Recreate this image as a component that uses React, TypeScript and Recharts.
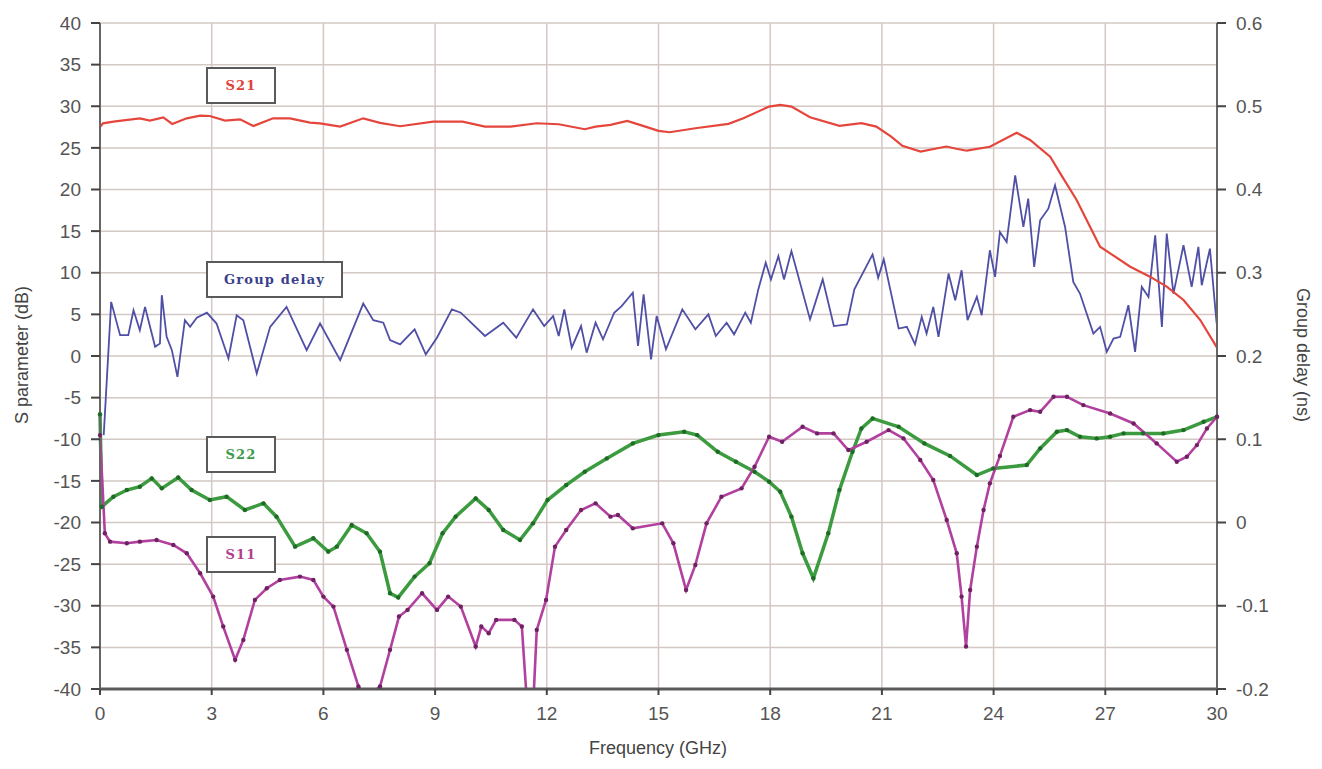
import React from "react";
import { LineChart, Line, XAxis, YAxis, CartesianGrid } from "recharts";

// values: [frequency GHz, value]
const freqTicks = [0, 3, 6, 9, 12, 15, 18, 21, 24, 27, 30];
const dbTicks = [-40, -35, -30, -25, -20, -15, -10, -5, 0, 5, 10, 15, 20, 25, 30, 35, 40];
const nsTicks = [-0.2, -0.1, 0, 0.1, 0.2, 0.3, 0.4, 0.5, 0.6];

const s21: [number, number][] = [
  [0, 27.5], [0.08, 27.95], [0.36, 28.15], [1.07, 28.55], [1.34, 28.27], [1.7, 28.67],
  [1.94, 27.87], [2.33, 28.55], [2.69, 28.87], [2.95, 28.83], [3.36, 28.27], [3.76, 28.43],
  [4.12, 27.63], [4.65, 28.55], [5.1, 28.55], [5.64, 28.03], [5.91, 27.95], [6.45, 27.55],
  [7.07, 28.55], [7.52, 28.0], [8.06, 27.6], [8.95, 28.16], [9.74, 28.16], [10.34, 27.56],
  [11.03, 27.56], [11.73, 27.96], [12.32, 27.84], [13.02, 27.24], [13.31, 27.56], [13.71, 27.76],
  [14.16, 28.24], [14.5, 27.76], [15.0, 27.04], [15.3, 26.88], [15.99, 27.36], [16.88, 27.88],
  [17.28, 28.56], [17.97, 29.96], [18.27, 30.16], [18.57, 29.96], [19.07, 28.68], [19.86, 27.64],
  [20.45, 27.96], [20.85, 27.56], [21.25, 26.36], [21.55, 25.24], [22.04, 24.56], [22.73, 25.16],
  [23.0, 24.9], [23.28, 24.66], [23.9, 25.14], [24.62, 26.82], [24.98, 25.95], [25.52, 23.94],
  [25.79, 21.94], [26.23, 18.74], [26.59, 15.53], [26.86, 13.13], [27.13, 12.33], [27.67, 10.73],
  [28.2, 9.53], [28.65, 8.33], [29.1, 6.73], [29.55, 4.32], [30.0, 1.0],
];

const groupDelay: [number, number][] = [
  [0.1, 0.105], [0.3, 0.265], [0.54, 0.225], [0.76, 0.225], [0.9, 0.255], [1.07, 0.231],
  [1.21, 0.259], [1.3, 0.243], [1.48, 0.211], [1.61, 0.215], [1.66, 0.273], [1.79, 0.223],
  [1.93, 0.207], [2.08, 0.175], [2.28, 0.243], [2.42, 0.235], [2.6, 0.246], [2.87, 0.252],
  [3.13, 0.239], [3.45, 0.197], [3.67, 0.249], [3.85, 0.243], [4.21, 0.179], [4.57, 0.235],
  [5.01, 0.259], [5.55, 0.207], [5.91, 0.239], [6.45, 0.195], [7.07, 0.263], [7.34, 0.243],
  [7.61, 0.24], [7.79, 0.219], [8.06, 0.214], [8.45, 0.232], [8.75, 0.202], [9.05, 0.222],
  [9.45, 0.256], [9.69, 0.252], [10.34, 0.224], [10.83, 0.24], [11.18, 0.222], [11.63, 0.256],
  [11.93, 0.236], [12.17, 0.248], [12.32, 0.224], [12.47, 0.256], [12.67, 0.21], [12.92, 0.236],
  [13.07, 0.204], [13.31, 0.24], [13.51, 0.22], [13.81, 0.252], [14.01, 0.26], [14.31, 0.276],
  [14.45, 0.212], [14.6, 0.274], [14.8, 0.196], [14.95, 0.248], [15.2, 0.208], [15.64, 0.256],
  [15.99, 0.232], [16.34, 0.25], [16.54, 0.224], [16.83, 0.24], [17.03, 0.226], [17.33, 0.252],
  [17.48, 0.24], [17.68, 0.28], [17.88, 0.312], [18.02, 0.292], [18.22, 0.32], [18.37, 0.292],
  [18.57, 0.326], [19.07, 0.244], [19.41, 0.292], [19.71, 0.236], [20.06, 0.238], [20.26, 0.28],
  [20.75, 0.322], [20.9, 0.294], [21.05, 0.316], [21.45, 0.233], [21.67, 0.235], [21.89, 0.214],
  [22.07, 0.247], [22.2, 0.227], [22.38, 0.259], [22.52, 0.223], [22.79, 0.299], [22.97, 0.267],
  [23.14, 0.303], [23.3, 0.243], [23.55, 0.271], [23.68, 0.249], [23.9, 0.327], [24.04, 0.295],
  [24.17, 0.349], [24.35, 0.337], [24.58, 0.417], [24.8, 0.355], [24.93, 0.389], [25.09, 0.307],
  [25.25, 0.363], [25.47, 0.377], [25.65, 0.405], [25.92, 0.355], [26.14, 0.289], [26.32, 0.275],
  [26.68, 0.227], [26.86, 0.235], [27.04, 0.205], [27.22, 0.221], [27.4, 0.223], [27.62, 0.261],
  [27.8, 0.205], [27.98, 0.283], [28.16, 0.271], [28.34, 0.345], [28.52, 0.235], [28.65, 0.347],
  [28.83, 0.275], [29.1, 0.333], [29.32, 0.283], [29.5, 0.331], [29.59, 0.285], [29.81, 0.329],
  [29.99, 0.239],
];

const s22: [number, number][] = [
  [0, -7], [0.05, -18.1], [0.36, -16.9], [0.72, -16.1], [1.07, -15.7], [1.39, -14.7],
  [1.66, -15.9], [2.1, -14.6], [2.46, -16.1], [2.95, -17.3], [3.4, -16.9], [3.89, -18.5],
  [4.39, -17.7], [4.74, -19.3], [5.24, -22.9], [5.73, -21.9], [6.13, -23.5], [6.36, -22.9],
  [6.76, -20.3], [7.16, -21.3], [7.52, -23.5], [7.79, -28.5], [8.01, -29.0], [8.45, -26.5],
  [8.85, -24.9], [9.2, -21.3], [9.55, -19.3], [10.09, -17.1], [10.44, -18.5], [10.83, -20.9],
  [11.28, -22.1], [11.63, -20.1], [12.02, -17.3], [12.52, -15.5], [13.02, -13.9], [13.61, -12.3],
  [14.31, -10.5], [15.0, -9.5], [15.69, -9.1], [16.04, -9.5], [16.59, -11.5], [17.08, -12.7],
  [17.58, -13.9], [17.97, -15.1], [18.27, -16.3], [18.57, -19.3], [18.87, -23.7], [19.16, -26.7],
  [19.56, -21.3], [19.86, -16.1], [20.21, -11.5], [20.45, -8.7], [20.75, -7.5], [21.45, -8.5],
  [22.14, -10.5], [22.83, -12.0], [23.55, -14.3], [23.99, -13.5], [24.89, -13.1], [25.25, -11.1],
  [25.7, -9.1], [25.97, -8.9], [26.32, -9.7], [26.77, -9.9], [27.13, -9.7], [27.49, -9.3],
  [28.02, -9.3], [28.56, -9.3], [29.1, -8.9], [29.64, -7.9], [30.0, -7.3],
];

const s11: [number, number][] = [
  [0, -9.5], [0.13, -21.3], [0.27, -22.3], [0.72, -22.5], [1.07, -22.3], [1.52, -22.1],
  [1.97, -22.7], [2.33, -23.7], [2.69, -26.1], [3.04, -28.9], [3.31, -32.5], [3.63, -36.5],
  [3.85, -34.1], [4.16, -29.3], [4.48, -27.9], [4.83, -26.9], [5.37, -26.5], [5.73, -26.9],
  [6.0, -28.9], [6.27, -30.1], [6.63, -35.3], [6.94, -39.7], [7.16, -41], [7.52, -39.7],
  [7.79, -35.3], [8.03, -31.3], [8.26, -30.5], [8.65, -28.5], [9.05, -30.5], [9.35, -28.9],
  [9.69, -30.1], [10.09, -34.9], [10.24, -32.5], [10.44, -33.3], [10.64, -31.7], [11.13, -31.7],
  [11.33, -32.5], [11.45, -40.5], [11.55, -42], [11.65, -40.5], [11.73, -32.9], [11.98, -29.3],
  [12.22, -22.9], [12.52, -20.9], [12.92, -18.5], [13.31, -17.7], [13.71, -19.3], [13.91, -19.1],
  [14.31, -20.7], [15.1, -20.1], [15.4, -22.5], [15.74, -28.1], [15.99, -25.1], [16.29, -20.1],
  [16.69, -16.9], [17.23, -15.9], [17.58, -13.3], [17.97, -9.7], [18.32, -10.3], [18.87, -8.5],
  [19.26, -9.3], [19.7, -9.3], [20.1, -11.3], [20.59, -10.3], [21.18, -8.9], [21.58, -9.9],
  [22.03, -12.5], [22.38, -14.9], [22.74, -19.7], [23.01, -23.7], [23.14, -28.9], [23.26, -34.9],
  [23.37, -28.1], [23.55, -22.9], [23.73, -18.5], [23.9, -15.3], [24.17, -12.0], [24.53, -7.3],
  [24.98, -6.5], [25.25, -6.7], [25.61, -4.9], [25.97, -4.9], [26.41, -5.9], [27.13, -6.9],
  [27.76, -8.1], [28.38, -10.5], [28.92, -12.7], [29.19, -12.1], [29.46, -10.7], [29.73, -8.7],
  [30.0, -7.3],
];

const toRows = (pts: [number, number][]) => pts.map(([f, v]) => ({ f, v }));

const tickFont = { fontSize: 19, fontFamily: "Liberation Sans, Arial, sans-serif", fill: "#555" };

function Tag({ x, y, w, color, text }: { x: number; y: number; w: number; color: string; text: string }) {
  return (
    <div
      style={{
        position: "absolute",
        left: x,
        top: y,
        width: w,
        height: 37,
        boxSizing: "border-box",
        border: "2px solid #5a5a5a",
        background: "#fff",
        color,
        fontFamily: "DejaVu Serif, serif",
        fontWeight: "bold",
        fontSize: 13,
        letterSpacing: 1.2,
        display: "flex",
        alignItems: "center",
        justifyContent: "center",
      }}
    >
      {text}
    </div>
  );
}

const axisTitle: React.CSSProperties = {
  position: "absolute",
  whiteSpace: "nowrap",
  fontFamily: "Liberation Sans, Arial, sans-serif",
  fontSize: 18,
  color: "#444",
  transform: "translate(-50%, -50%)",
};

export default function App() {
  return (
    <div style={{ position: "absolute", left: 0, top: 0, width: 1322, height: 769, background: "#fff" }}>
      <LineChart width={1322} height={769} margin={{ top: 23, right: 45, left: 40, bottom: 40 }}>
        <CartesianGrid yAxisId="left" stroke="#d3c8c4" strokeWidth={1.5} />
        <XAxis
          type="number"
          dataKey="f"
          domain={[0, 30]}
          ticks={freqTicks}
          height={40}
          tick={tickFont}
          tickSize={6}
          tickMargin={12}
          axisLine={{ stroke: "#5a5a5a", strokeWidth: 3 }}
          tickLine={{ stroke: "#444", strokeWidth: 2 }}
        />
        <YAxis
          yAxisId="left"
          type="number"
          domain={[-40, 40]}
          ticks={dbTicks}
          allowDataOverflow
          width={60}
          tick={tickFont}
          tickSize={9}
          tickMargin={10}
          axisLine={{ stroke: "#666", strokeWidth: 2 }}
          tickLine={{ stroke: "#444", strokeWidth: 2 }}
        />
        <YAxis
          yAxisId="right"
          orientation="right"
          type="number"
          domain={[-0.2, 0.6]}
          ticks={nsTicks}
          allowDataOverflow
          width={60}
          tick={tickFont}
          tickSize={9}
          tickMargin={10}
          tickFormatter={(v) => String(Math.round(v * 10) / 10)}
          axisLine={{ stroke: "#666", strokeWidth: 2 }}
          tickLine={{ stroke: "#444", strokeWidth: 2 }}
        />
        <Line
          yAxisId="right"
          data={toRows(groupDelay)}
          dataKey="v"
          type="linear"
          stroke="#4f4fa6"
          strokeWidth={1.8}
          dot={false}
          isAnimationActive={false}
        />
        <Line
          yAxisId="left"
          data={toRows(s21)}
          dataKey="v"
          type="linear"
          stroke="#e5463c"
          strokeWidth={2.2}
          dot={false}
          isAnimationActive={false}
        />
        <Line
          yAxisId="left"
          data={toRows(s22)}
          dataKey="v"
          type="linear"
          stroke="#3b9b3e"
          strokeWidth={3.5}
          dot={{ r: 2.2, fill: "#1f6a26", stroke: "none" }}
          isAnimationActive={false}
        />
        <Line
          yAxisId="left"
          data={toRows(s11)}
          dataKey="v"
          type="linear"
          stroke="#b1409f"
          strokeWidth={2.6}
          dot={{ r: 2.2, fill: "#6e2262", stroke: "none" }}
          isAnimationActive={false}
        />
      </LineChart>

      <Tag x={206} y={67} w={70} color="#e0403a" text="S21" />
      <Tag x={206} y={261} w={137} color="#3a3f8c" text="Group delay" />
      <Tag x={206} y={436} w={70} color="#3d9a4a" text="S22" />
      <Tag x={206} y={536} w={70} color="#b0408f" text="S11" />

      <div style={{ ...axisTitle, left: 22, top: 355, transform: "translate(-50%, -50%) rotate(-90deg)" }}>
        S parameter (dB)
      </div>
      <div style={{ ...axisTitle, left: 1302, top: 355, transform: "translate(-50%, -50%) rotate(90deg)" }}>
        Group delay (ns)
      </div>
      <div style={{ ...axisTitle, left: 658, top: 748 }}>Frequency (GHz)</div>
    </div>
  );
}
